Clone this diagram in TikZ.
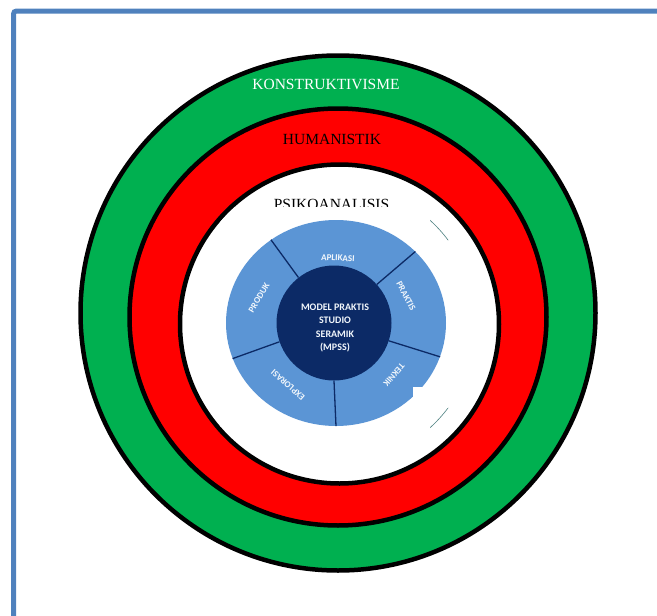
\documentclass[tikz,border=0pt]{standalone}
\usepackage{fontspec}
\setmainfont{Liberation Serif}
\newfontfamily\mpssfont{Carlito}
\usetikzlibrary{shapes.geometric}
\definecolor{frameblue}{HTML}{4F81BD}
\definecolor{ringgreen}{HTML}{00B050}
\definecolor{ringred}{HTML}{FF0000}
\definecolor{disklight}{HTML}{5B95D5}
\definecolor{diskdark}{HTML}{0C2A66}
\tikzset{
  ring/.style={circle, draw=black, line width=4.5pt, inner sep=0pt},
  ringlabel/.style={font=\fontsize{15.5}{16}\selectfont, inner sep=0pt},
  sector/.style={text=white!92!disklight, font=\mpssfont\bfseries\fontsize{9}{9}\selectfont, inner sep=0pt},
  divider/.style={draw=diskdark, line width=1.3pt},
}
\begin{document}
\begin{tikzpicture}[x=1pt, y=-1pt]
\useasboundingbox (0,0) rectangle (657,616);
\draw[frameblue, line width=5pt, rounded corners=3pt] (13.5,640) -- (13.5,11) -- (680,11);

% rings
\node[ring, fill=ringgreen, minimum size=515pt] (konstruktivisme) at (338,313) {};
\node[ring, fill=ringred, minimum size=417pt] (humanistik) at (338,317) {};
\node[ring, fill=white, minimum size=319pt] (psikoanalisis) at (339.5,324) {};

\node[ringlabel, text=white] (lblkons) at (326,84) {KONSTRUKTIVISME};
\node[ringlabel] (lblhum) at (332,139.5) {HUMANISTIK};
\node[ringlabel] (lblpsi) at (331.5,204) {PSIKOANALISIS};

% pasted MPSS picture
\begin{scope}
\clip (psikoanalisis.center) circle [radius=157];
\fill[white] (220,207) rectangle (448,427);
\end{scope}
\node[ellipse, fill=disklight, minimum width=220pt, minimum height=206pt, inner sep=0pt] (disk) at (336,323) {};
\node[circle, fill=diskdark, minimum size=115pt, inner sep=0pt] (mpss) at (334,323) {};
\foreach \a in {128,42,342,270,199}
  \draw[divider] (mpss.\a) -- (disk.\a);
\node[text=white!92!disklight, align=center, font=\mpssfont\bfseries\fontsize{10}{13.3}\selectfont] (mpsslbl) at (335,328) {MODEL PRAKTIS\\STUDIO\\SERAMIK\\(MPSS)};

\node[sector, rotate=-3] (aplikasi) at (338,258) {APLIKASI};
\node[sector, rotate=-62] (praktis) at (406,296) {PRAKTIS};
\node[sector, rotate=-131] (teknik) at (394,375) {TEKNIK};
\node[sector, rotate=139] (eksplorasi) at (288,385) {EXPLORASI};
\node[sector, rotate=59] (produk) at (259,298) {PRODUK};

\begin{scope}
\clip (430,207) rectangle (448,427);
\draw[gray!60!teal, line width=0.6pt] (336,324) circle [radius=140];
\end{scope}
\fill[white] (413,387) rectangle (448,408);
\end{tikzpicture}
\end{document}
